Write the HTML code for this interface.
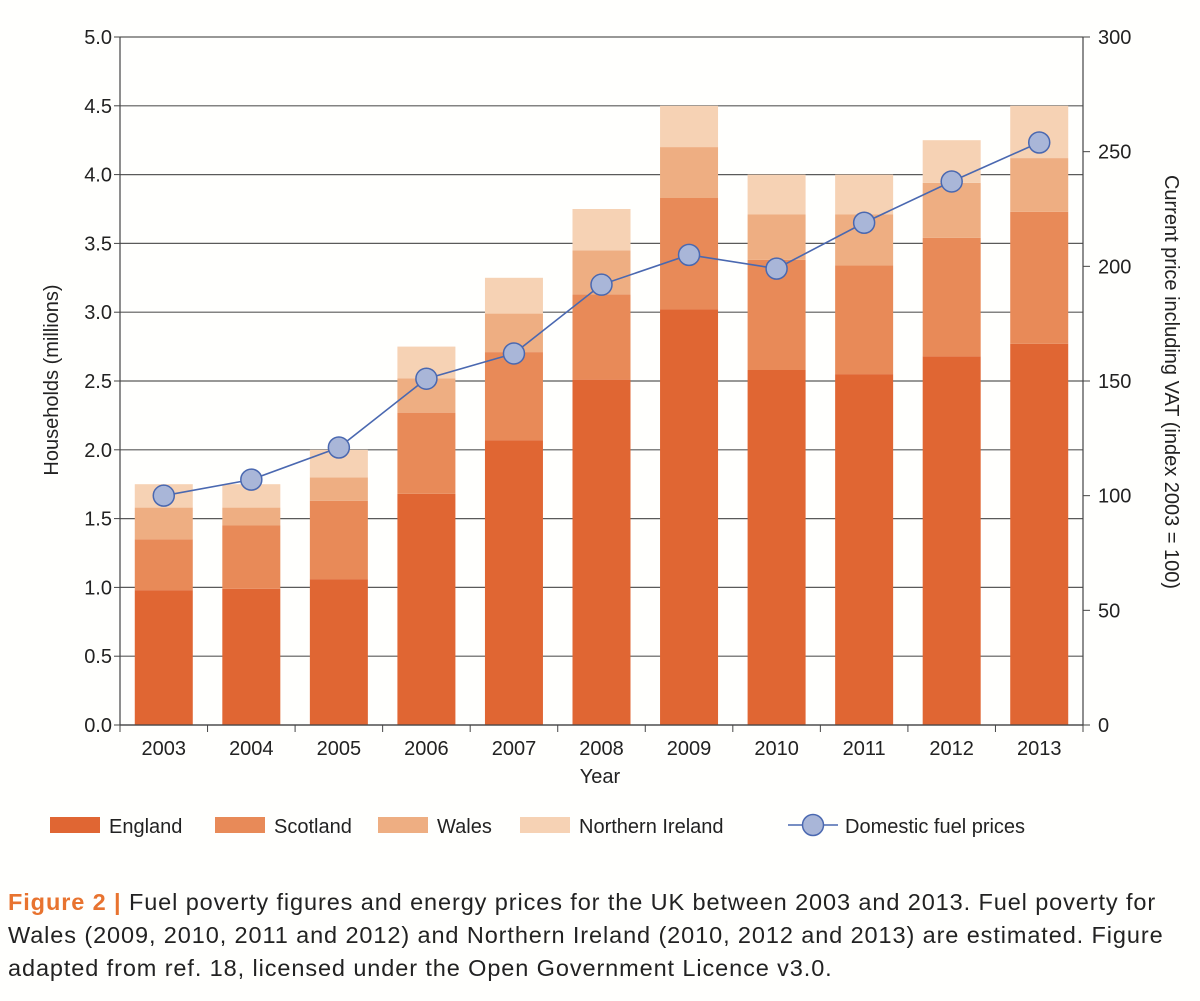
<!DOCTYPE html>
<html><head><meta charset="utf-8"><style>
body{margin:0;background:#fffffd;width:1200px;height:1001px;overflow:hidden;font-family:"Liberation Sans",sans-serif}
svg text{font-family:"Liberation Sans",sans-serif;fill:#222}
#cap{position:absolute;left:8px;top:886px;width:1190px;font-size:23.5px;line-height:33px;color:#222;white-space:nowrap;letter-spacing:0.9px}
</style></head><body>
<svg id="chart" width="1200" height="880" style="position:absolute;left:0;top:0"></svg>
<div id="cap"><b style="color:#e8732f">Figure 2 |</b> Fuel poverty figures and energy prices for the UK between 2003 and 2013. Fuel poverty for<br>Wales (2009, 2010, 2011 and 2012) and Northern Ireland (2010, 2012 and 2013) are estimated. Figure<br>adapted from ref. 18, licensed under the Open Government Licence v3.0.</div>
<script>
const years=["2003","2004","2005","2006","2007","2008","2009","2010","2011","2012","2013"];
const england=[0.98,0.99,1.06,1.68,2.07,2.51,3.02,2.58,2.55,2.68,2.77];
const scotland=[0.37,0.46,0.57,0.59,0.64,0.62,0.81,0.80,0.79,0.86,0.96];
const wales=[0.23,0.13,0.17,0.25,0.28,0.32,0.37,0.33,0.37,0.40,0.39];
const nireland=[0.17,0.17,0.20,0.23,0.26,0.30,0.30,0.29,0.29,0.31,0.38];
const prices=[100,107,121,151,162,192,205,199,219,237,254];
const leftTicks=["0.0","0.5","1.0","1.5","2.0","2.5","3.0","3.5","4.0","4.5","5.0"];
const rightTicks=["0","50","100","150","200","250","300"];

const NS="http://www.w3.org/2000/svg",svg=document.getElementById('chart');
const X0=120,X1=1083,Y0=725,Y1=37;
const band=(X1-X0)/years.length;
const xc=i=>X0+band*(i+0.5);
const yL=v=>Y0-(v/5)*(Y0-Y1);
const yR=v=>Y0-(v/300)*(Y0-Y1);
function mk(t,a,p){const e=document.createElementNS(NS,t);for(const k in a)e.setAttribute(k,a[k]);(p||svg).appendChild(e);return e;}
leftTicks.forEach(t=>{const y=yL(+t);
 const g=mk('line',{x1:X0,x2:X1,y1:y,y2:y,stroke:'#5a5a5a','stroke-width':1.2});
 
 mk('line',{x1:X0-6,x2:X0,y1:y,y2:y,stroke:'#444'});
 const l=mk('text',{x:X0-8,y:y+7,'text-anchor':'end','font-size':20});l.textContent=t;
 });
rightTicks.forEach(t=>{const y=yR(+t);
 mk('line',{x1:X1,x2:X1+7,y1:y,y2:y,stroke:'#444'});
 const l=mk('text',{x:X1+15,y:y+7,'font-size':20});l.textContent=t;
 });
const series=[england,scotland,wales,nireland],cols=['#e06633','#e88a58','#eeae82','#f6d2b4'],names=['england','scotland','wales','northern-ireland'];
years.forEach((yr,i)=>{let base=0;series.forEach((s,k)=>{const top=base+s[i];
 const r=mk('rect',{x:xc(i)-29,width:58,y:yL(top),height:yL(base)-yL(top),fill:cols[k]});
 base=top;});
 mk('line',{x1:X0+band*i,x2:X0+band*i,y1:Y0,y2:Y0+7,stroke:'#444'});
 const l=mk('text',{x:xc(i),y:Y0+30,'text-anchor':'middle','font-size':20});l.textContent=yr;
 });
mk('line',{x1:X1,x2:X1,y1:Y0,y2:Y0+7,stroke:'#444'});
mk('line',{x1:X0,x2:X0,y1:Y1,y2:Y0,stroke:'#444','stroke-width':1.2});
mk('line',{x1:X1,x2:X1,y1:Y1,y2:Y0,stroke:'#444','stroke-width':1.2});
mk('line',{x1:X0,x2:X1,y1:Y0,y2:Y0,stroke:'#444','stroke-width':1.2});
const pl=mk('polyline',{points:prices.map((v,i)=>xc(i)+','+yR(v)).join(' '),fill:'none',stroke:'#4a68b0','stroke-width':1.6});

prices.forEach((v,i)=>{const c=mk('ellipse',{cx:xc(i),cy:yR(v),rx:10.5,ry:10.5,fill:'#a9b6d8',stroke:'#4a68b0','stroke-width':1.5});
 });
let t=mk('text',{x:600,y:783,'text-anchor':'middle','font-size':20});t.textContent='Year';

t=mk('text',{x:0,y:0,'text-anchor':'middle','font-size':20,transform:'translate(58,380) rotate(-90)'});t.textContent='Households (millions)';

t=mk('text',{x:0,y:0,'text-anchor':'middle','font-size':20,transform:'translate(1165,382) rotate(90)'});t.textContent='Current price including VAT (index 2003 = 100)';

const leg=[[50,'England'],[215,'Scotland'],[378,'Wales'],[520,'Northern Ireland']];
leg.forEach((L,k)=>{const r=mk('rect',{x:L[0],y:817,width:50,height:16,fill:cols[k]});
 
 const tx=mk('text',{x:L[0]+59,y:833,'font-size':20});tx.textContent=L[1];
 });
mk('line',{x1:788,x2:838,y1:825,y2:825,stroke:'#4a68b0','stroke-width':1.6});
const lm=mk('ellipse',{cx:813,cy:825,rx:10.5,ry:10.5,fill:'#a9b6d8',stroke:'#4a68b0','stroke-width':1.5});

t=mk('text',{x:845,y:833,'font-size':20});t.textContent='Domestic fuel prices';

</script>
</body></html>
